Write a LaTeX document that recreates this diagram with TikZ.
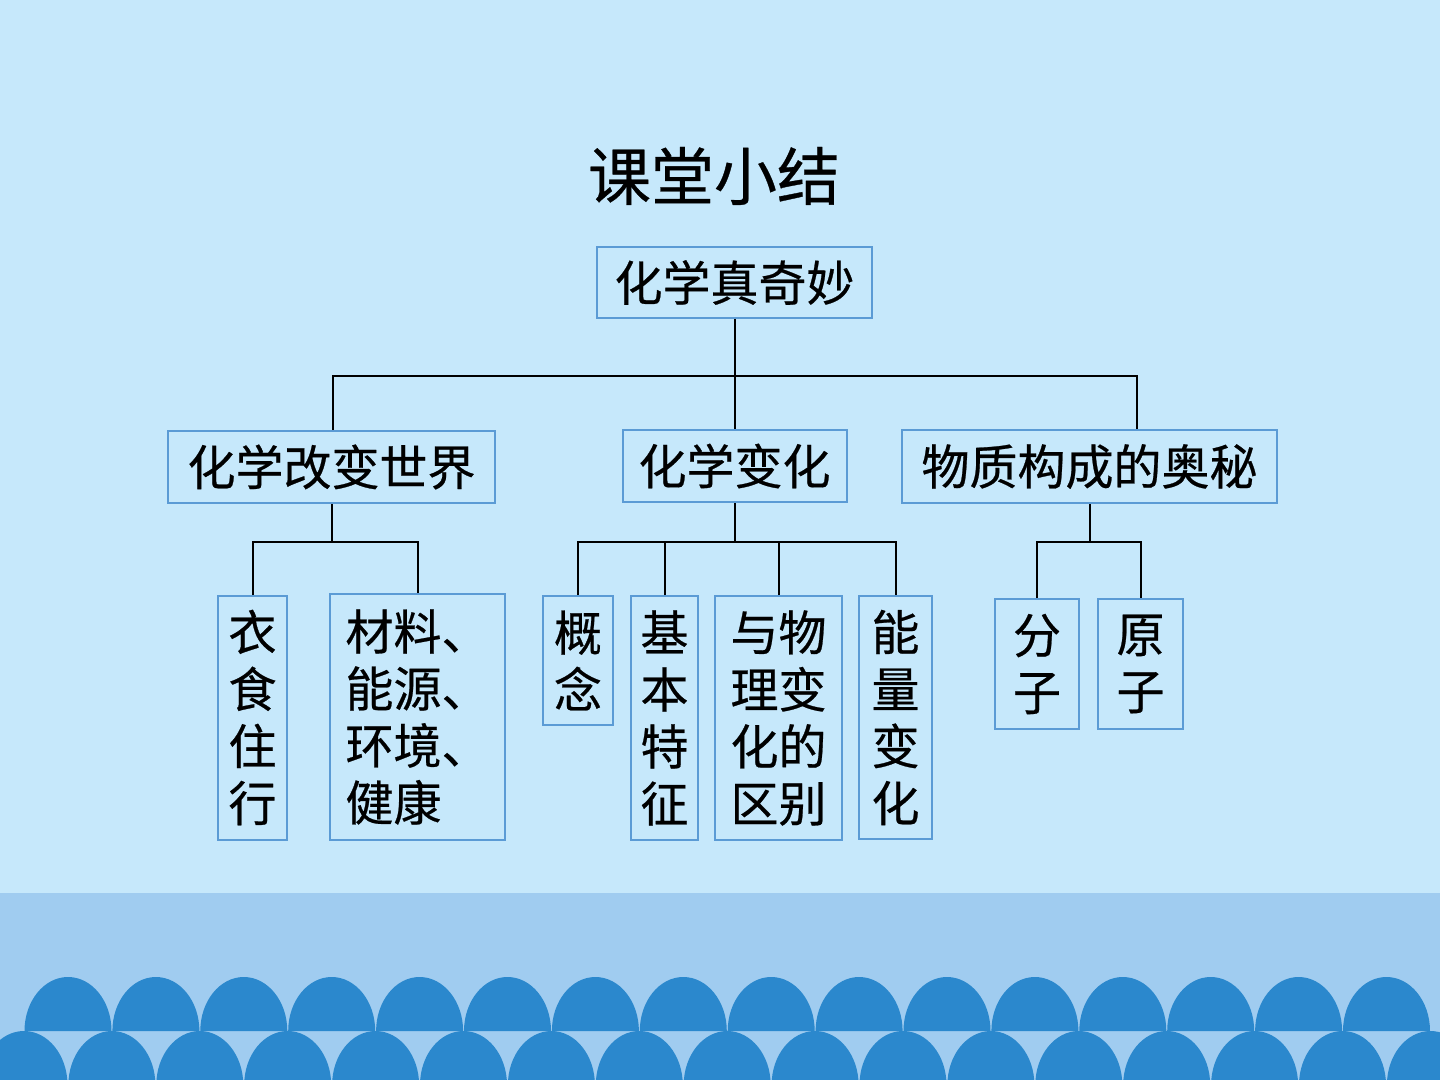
\documentclass[tikz,border=0pt]{standalone}
\usepackage{fontspec}
\setmainfont{Noto Sans CJK SC}[FakeBold=0.5]
\usetikzlibrary{calc}
\definecolor{skybg}{HTML}{C6E8FB}
\definecolor{bandblue}{HTML}{A0CCF0}
\definecolor{scaleblue}{HTML}{2B88CD}
\definecolor{boxline}{HTML}{5B9BD5}
\def\boxfont{\fontsize{24}{28.5}\selectfont}
\tikzset{
	box/.style={draw=boxline, line width=1pt, inner sep=0pt, align=center, font=\boxfont},
	link/.style={draw=black, line width=1pt},
}

\begin{document}
\begin{tikzpicture}[x=0.5pt, y=-0.5pt]
			%%%%% BACKGROUND %%%%%
			\fill[skybg] (0, 0) rectangle (1440, 1080);
			\useasboundingbox (0, 0) rectangle (1440, 1080);
			\fill[bandblue] (0, 893) rectangle (1440, 1080);
			\foreach \k in {0,...,15}
				\fill[scaleblue] ({24.5+87.9*\k}, 1031) arc (180:0:21.75pt and 27pt) -- cycle;
			\foreach \k in {0,...,16}
				\fill[scaleblue] ({-19.5+87.9*\k}, 1085) arc (180:0:21.75pt and 27pt) -- cycle;
			
			%%%%% TITLE %%%%%
			\node (title) at (714, 176) {\fontsize{31.5}{36}\selectfont 课堂小结};
			
			%%%%% BOXES %%%%%
			\node[box, minimum width=137.5pt, minimum height=35.5pt] (root) at (734.5, 282.5) {化学真奇妙};
			
			\node[box, minimum width=163.5pt, minimum height=36pt] (world) at (331.5, 467) {化学改变世界};
			\node[box, minimum width=112pt, minimum height=36pt] (change) at (734.5, 466) {化学变化};
			\node[box, minimum width=187.5pt, minimum height=36.5pt] (matter) at (1089.5, 466.5) {物质构成的奥秘};
			
			\node[box, minimum width=34.5pt, minimum height=122pt] (clothes) at (252.5, 717.5) {衣\\食\\住\\行};
			\node[box, align=left, minimum width=87.5pt, minimum height=123pt] (material) at (417.5, 717) {材料、\\能源、\\环境、\\健康};
			
			\node[box, minimum width=35pt, minimum height=64.5pt] (concept) at (578, 660.5) {概\\念};
			\node[box, minimum width=33.5pt, minimum height=122pt] (feature) at (664.5, 718) {基\\本\\特\\征};
			\node[box, minimum width=63.5pt, minimum height=122pt] (diff) at (778.5, 718) {与物\\理变\\化的\\区别};
			\node[box, minimum width=36.5pt, minimum height=121.5pt] (energy) at (895.5, 717.5) {能\\量\\变\\化};
			
			\node[box, minimum width=42pt, minimum height=65pt] (molecule) at (1037, 664) {分\\子};
			\node[box, minimum width=42.5pt, minimum height=65pt] (atom) at (1140.5, 664) {原\\子};
			
			%%%%% LINKS %%%%%
			\coordinate (bus) at (734.5, 376);
			\coordinate (wdrop) at (333, 376);
			\coordinate (mdrop) at (1137, 376);
			\draw[link] (root) -- (change);
			\draw[link] (wdrop |- world.north) -- (wdrop) -- (mdrop) -- (mdrop |- matter.north);
			
			\coordinate (wbus) at (331.5, 542);
			\draw[link] (world) -- (wbus);
			\draw[link] (clothes.north) |- (wbus) -| (material.north);
			
			\coordinate (cbus) at (734.5, 542);
			\draw[link] (change) -- (cbus);
			\draw[link] (concept.north) |- (cbus) -| (energy.north);
			\draw[link] (feature.north) -- (feature.north |- cbus);
			\draw[link] (diff.north) -- (diff.north |- cbus);
			
			\coordinate (mbus) at (1089.5, 542);
			\draw[link] (matter) -- (mbus);
			\draw[link] (molecule.north) |- (mbus) -| (atom.north);
			%%%%% END %%%%%
\end{tikzpicture}
\end{document}
